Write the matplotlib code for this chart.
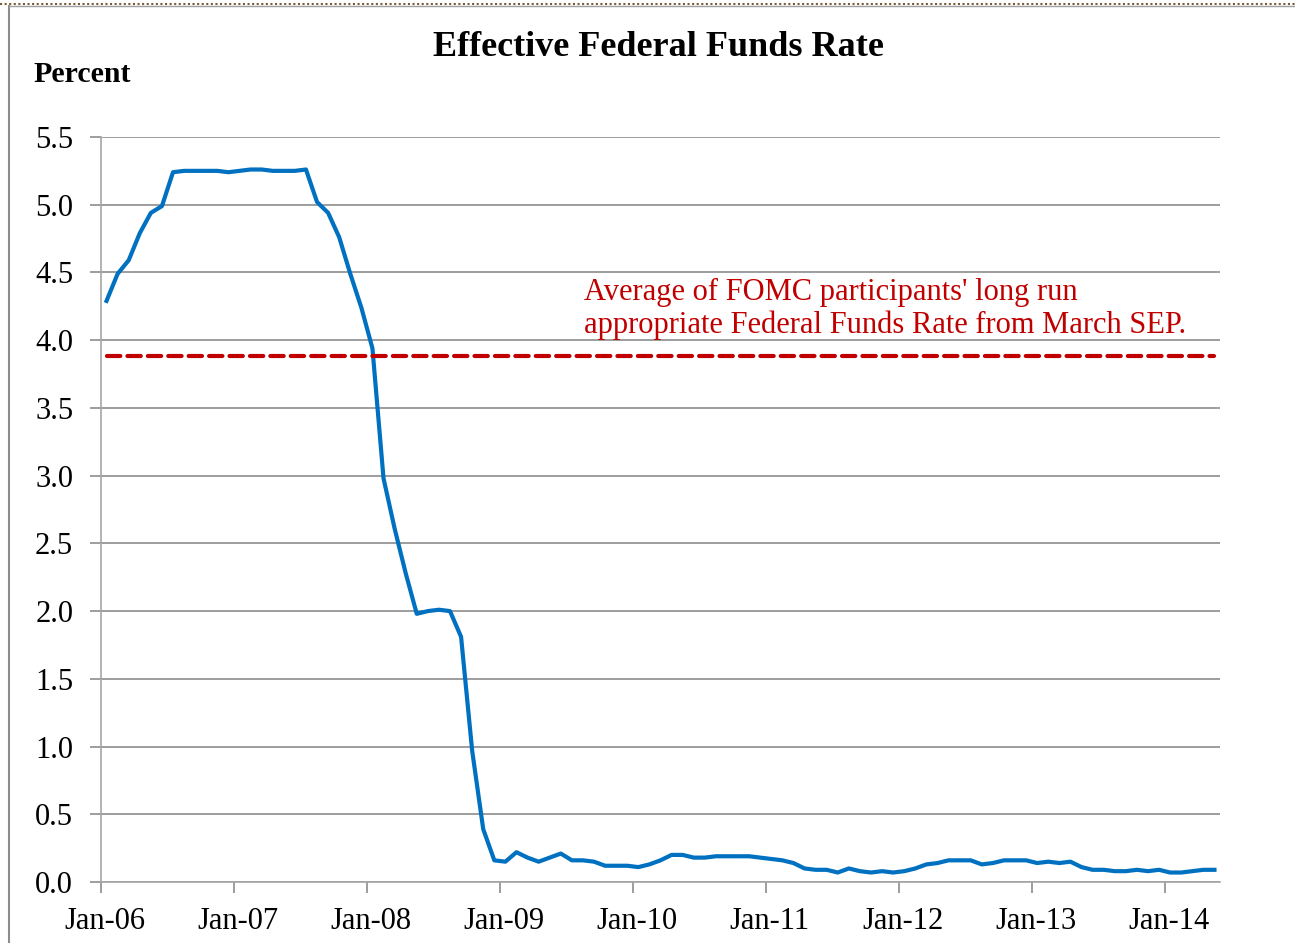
import numpy as np
import matplotlib.pyplot as plt
import matplotlib.transforms as mtransforms
from matplotlib.lines import Line2D

# monthly effective federal funds rate, Jan-2006 .. May-2014
rate_2006 = [4.29, 4.49, 4.59, 4.79, 4.94, 4.99, 5.24, 5.25, 5.25, 5.25, 5.25, 5.24]
rate_2007 = [5.25, 5.26, 5.26, 5.25, 5.25, 5.25, 5.26, 5.02, 4.94, 4.76, 4.49, 4.24]
rate_2008 = [3.94, 2.98, 2.61, 2.28, 1.98, 2.00, 2.01, 2.00, 1.81, 0.97, 0.39, 0.16]
rate_2009 = [0.15, 0.22, 0.18, 0.15, 0.18, 0.21, 0.16, 0.16, 0.15, 0.12, 0.12, 0.12]
rate_2010 = [0.11, 0.13, 0.16, 0.20, 0.20, 0.18, 0.18, 0.19, 0.19, 0.19, 0.19, 0.18]
rate_2011 = [0.17, 0.16, 0.14, 0.10, 0.09, 0.09, 0.07, 0.10, 0.08, 0.07, 0.08, 0.07]
rate_2012 = [0.08, 0.10, 0.13, 0.14, 0.16, 0.16, 0.16, 0.13, 0.14, 0.16, 0.16, 0.16]
rate_2013 = [0.14, 0.15, 0.14, 0.15, 0.11, 0.09, 0.09, 0.08, 0.08, 0.09, 0.08, 0.09]
rate_2014 = [0.07, 0.07, 0.08, 0.09, 0.09]

long_run_avg = 3.88
year_labels = ["Jan-06", "Jan-07", "Jan-08", "Jan-09", "Jan-10",
               "Jan-11", "Jan-12", "Jan-13", "Jan-14"]

effr = np.array(rate_2006 + rate_2007 + rate_2008 + rate_2009 + rate_2010
                + rate_2011 + rate_2012 + rate_2013 + rate_2014)
# points sit in the middle of each month
months = np.arange(len(effr)) + 0.5

plt.rcParams['font.family'] = ['Liberation Serif', 'DejaVu Serif']

fig = plt.figure(figsize=(12.95, 9.43), dpi=100)
ax = fig.add_axes([101 / 1295, 1 - 882 / 943, 1119 / 1295, 745 / 943])

ax.plot(months, effr, color='#0070C0', lw=3.0, solid_joinstyle='round', zorder=3)
ax.plot([months[0], months[-1]], [long_run_avg, long_run_avg], color='#C00000',
        lw=3.0, dashes=(3.2, 1.7), dash_capstyle='round', zorder=3)

ax.set_xlim(0, 101)
ax.set_ylim(0, 5.5)
ax.set_yticks(np.arange(0, 5.51, 0.5))
ax.set_yticklabels([f"{v:.1f}" for v in np.arange(0, 5.51, 0.5)])
ax.set_xticks(np.arange(0, 97, 12))
ax.set_xticklabels(year_labels)
ax.grid(axis='y', color='#8C8C8C', lw=1.2)
ax.set_axisbelow(True)

for s in ['top', 'right']:
    ax.spines[s].set_visible(False)
for s in ['left', 'bottom']:
    ax.spines[s].set_color('#A6A6A6')
    ax.spines[s].set_linewidth(1.2)
ax.tick_params(axis='both', colors='#8C8C8C', length=8, width=1.2,
               labelsize=22, labelcolor='black')
ax.tick_params(axis='y', pad=12)
ax.tick_params(axis='x', pad=10)

# nudge the date labels a little to the right of their ticks
shift = mtransforms.ScaledTranslation(4 / 100, 0, fig.dpi_scale_trans)
for lbl in ax.get_xticklabels():
    lbl.set_transform(lbl.get_transform() + shift)

ax.text(43.6, 4.23, "Average of FOMC participants' long run\n"
        "appropriate Federal Funds Rate from March SEP.",
        color='#C00000', fontsize=22, ha='left', va='center', linespacing=1.18)

fig.text(658 / 1295, 1 - 47 / 943, "Effective Federal Funds Rate",
         fontsize=26, fontweight='bold', ha='center', va='center')
fig.text(33 / 1295, 1 - 74 / 943, "Percent",
         fontsize=21.5, fontweight='bold', ha='left', va='center')

# frame around the chart area
fig.add_artist(Line2D([8.5 / 1295, 8.5 / 1295], [0, 1 - 6 / 943],
                      transform=fig.transFigure, color='#8C8C8C', lw=1.5))
fig.add_artist(Line2D([8.5 / 1295, 1], [1 - 6 / 943, 1 - 6 / 943],
                      transform=fig.transFigure, color='#A0A0A0', lw=1.0))
fig.add_artist(Line2D([0, 1], [1 - 4 / 943, 1 - 4 / 943],
                      transform=fig.transFigure, color='#7A5C3A', lw=1.5,
                      dashes=(1, 1.2)))

fig.savefig('out.png', dpi=100)
